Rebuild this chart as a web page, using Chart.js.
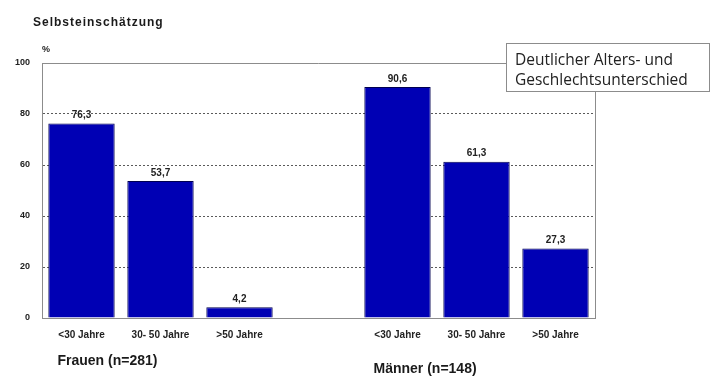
<!DOCTYPE html>
<html lang="de">
<head>
<meta charset="UTF-8">
<title>Selbsteinschätzung</title>
<script src="https://cdn.jsdelivr.net/npm/chart.js"></script>
<style>
  html, body { margin: 0; padding: 0; background: #fff; }
  #wrap { width: 712px; height: 378px; position: relative; }
</style>
</head>
<body>
<div id="wrap"><canvas id="chart" width="712" height="378"></canvas></div>
<script>
// Daten
const kategorien = ["<30 Jahre", "30- 50 Jahre", ">50 Jahre", "", "<30 Jahre", "30- 50 Jahre", ">50 Jahre"];
const werte = [76.3, 53.7, 4.2, null, 90.6, 61.3, 27.3];
const yTicks = [0, 20, 40, 60, 80, 100];
const gruppen = ["Frauen (n=281)", "Männer (n=148)"];
const titel = "Selbsteinschätzung";
const hinweis = ["Deutlicher Alters- und", "Geschlechtsunterschied"];

const fmt = v => v.toFixed(1).replace(".", ",");

const extras = {
  id: "extras",
  afterDraw(chart) {
    const ctx = chart.ctx;
    const a = chart.chartArea;
    const y = chart.scales.y;
    ctx.save();

    // Rahmen oben und rechts
    ctx.strokeStyle = "#8c8c8c";
    ctx.lineWidth = 1;
    ctx.beginPath();
    ctx.moveTo(a.left, Math.round(y.getPixelForValue(100)) + 0.5);
    ctx.lineTo(a.right + 0.5, Math.round(y.getPixelForValue(100)) + 0.5);
    ctx.lineTo(a.right + 0.5, a.bottom);
    ctx.stroke();

    // Werte über den Balken
    const meta = chart.getDatasetMeta(0);
    ctx.fillStyle = "#222";
    ctx.font = "bold 10px 'Liberation Sans', Arial, sans-serif";
    ctx.textAlign = "center";
    ctx.textBaseline = "bottom";
    meta.data.forEach((bar, i) => {
      if (werte[i] == null) return;
      ctx.fillText(fmt(werte[i]), bar.x, bar.y - 3);
    });

    // Titel und Einheit
    ctx.textAlign = "left";
    ctx.textBaseline = "alphabetic";
    ctx.font = "bold 12px 'Liberation Sans', Arial, sans-serif";
    ctx.fillStyle = "#1a1a1a";
    if ("letterSpacing" in ctx) ctx.letterSpacing = "1px";
    ctx.fillText(titel, 33, 26);
    if ("letterSpacing" in ctx) ctx.letterSpacing = "0px";
    ctx.font = "bold 9px 'Liberation Sans', Arial, sans-serif";
    ctx.fillText("%", 42, 52);

    // Gruppenbeschriftungen
    ctx.font = "bold 14px 'Liberation Sans', Arial, sans-serif";
    ctx.fillStyle = "#1a1a1a";
    const x = chart.scales.x;
    ctx.fillText(gruppen[0], x.getPixelForValue(0) - 24, 365);
    ctx.fillText(gruppen[1], x.getPixelForValue(4) - 24, 373);

    // Hinweiskasten
    ctx.fillStyle = "#fff";
    ctx.fillRect(506, 43, 204, 49);
    ctx.strokeStyle = "#8c8c8c";
    ctx.strokeRect(506.5, 43.5, 203, 48);
    ctx.fillStyle = "#222";
    ctx.font = "15.5px 'Open Sans', 'DejaVu Sans', sans-serif";
    ctx.fillText(hinweis[0], 515, 65);
    ctx.fillText(hinweis[1], 515, 85);

    ctx.restore();
  }
};

new Chart(document.getElementById("chart"), {
  type: "bar",
  data: {
    labels: kategorien,
    datasets: [{
      data: werte,
      backgroundColor: "#0000b4",
      borderColor: "#000050",
      borderWidth: 1,
      categoryPercentage: 1,
      barPercentage: 0.84
    }]
  },
  options: {
    responsive: false,
    animation: false,
    events: [],
    layout: { padding: { top: 63, right: 117, bottom: 0, left: 0 } },
    plugins: {
      legend: { display: false },
      tooltip: { enabled: false }
    },
    scales: {
      x: {
        afterFit(s) { s.height = 60; },
        grid: { display: false },
        border: { display: true, color: "#8c8c8c", width: 1 },
        ticks: {
          color: "#222",
          font: { family: "'Liberation Sans', Arial, sans-serif", size: 10, weight: "bold" },
          padding: 3,
          maxRotation: 0,
          autoSkip: false
        }
      },
      y: {
        min: 0,
        max: 100,
        afterFit(s) { s.width = 42; },
        afterBuildTicks(s) { s.ticks = yTicks.map(v => ({ value: v })); },
        grid: {
          drawTicks: false,
          color: ctx => (ctx.tick && (ctx.tick.value === 0 || ctx.tick.value === 100)) ? "rgba(0,0,0,0)" : "#5a5a5a",
          lineWidth: 1
        },
        border: { display: true, color: "#8c8c8c", width: 1, dash: [2, 2] },
        ticks: {
          color: "#222",
          font: { family: "'Liberation Sans', Arial, sans-serif", size: 9, weight: "bold" },
          padding: 12
        }
      }
    }
  },
  plugins: [extras]
});
</script>
</body>
</html>
